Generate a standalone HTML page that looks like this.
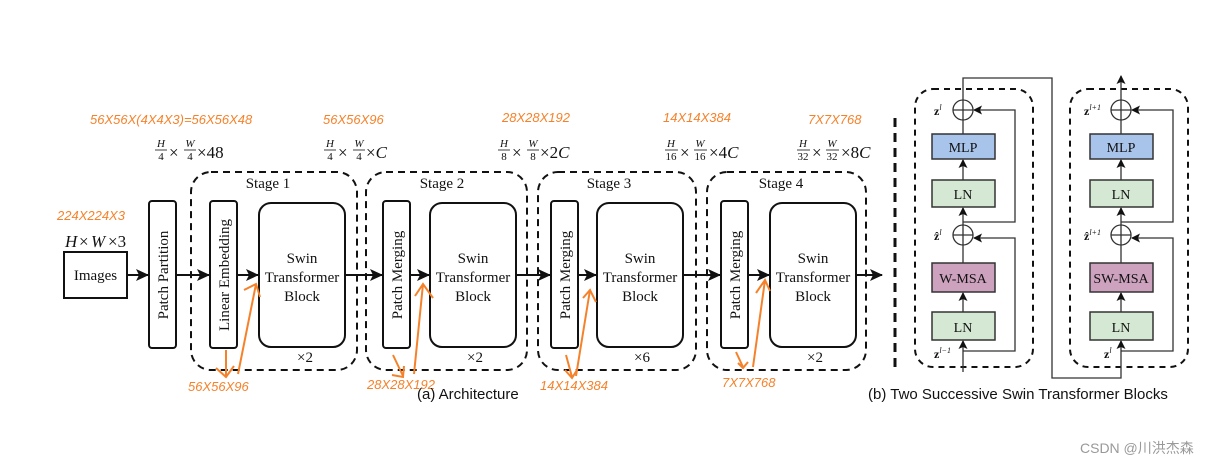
<!DOCTYPE html>
<html><head><meta charset="utf-8"><style>
html,body{margin:0;padding:0;background:#fff;}
svg{display:block}
.s{font-family:"Liberation Serif",serif;fill:#111}
.o{font-family:"Liberation Sans",sans-serif;font-style:italic;fill:#f5822a;font-size:13px}
.a{font-family:"Liberation Sans",sans-serif;fill:#111}
</style></head><body>
<svg width="1232" height="467" viewBox="0 0 1232 467" xmlns="http://www.w3.org/2000/svg">
<defs>
<marker id="ah" markerWidth="13" markerHeight="12" refX="12" refY="6" orient="auto" markerUnits="userSpaceOnUse"><path d="M0,0 L13,6 L0,12 L3,6z" fill="#111"/></marker>
<marker id="as" markerWidth="9" markerHeight="9" refX="8" refY="4.5" orient="auto" markerUnits="userSpaceOnUse"><path d="M0,0 L9,4.5 L0,9 L2,4.5z" fill="#111"/></marker>
</defs>
<text class="o" x="90" y="124">56X56X(4X4X3)=56X56X48</text>
<text class="o" x="323" y="124">56X56X96</text>
<text class="o" x="502" y="122">28X28X192</text>
<text class="o" x="663" y="122">14X14X384</text>
<text class="o" x="808" y="124">7X7X768</text>
<text class="o" x="57" y="220">224X224X3</text>
<g class="s" font-size="11" font-style="italic" text-anchor="middle">
<text x="161" y="147">H</text><text x="161" y="160" font-style="normal">4</text><line x1="155" y1="150" x2="167" y2="150" stroke="#111" stroke-width="0.8"/>
<text x="190" y="147">W</text><text x="190" y="160" font-style="normal">4</text><line x1="184" y1="150" x2="196" y2="150" stroke="#111" stroke-width="0.8"/>
<text x="330" y="147">H</text><text x="330" y="160" font-style="normal">4</text><line x1="324" y1="150" x2="336" y2="150" stroke="#111" stroke-width="0.8"/>
<text x="359" y="147">W</text><text x="359" y="160" font-style="normal">4</text><line x1="353" y1="150" x2="365" y2="150" stroke="#111" stroke-width="0.8"/>
<text x="504" y="147">H</text><text x="504" y="160" font-style="normal">8</text><line x1="498" y1="150" x2="510" y2="150" stroke="#111" stroke-width="0.8"/>
<text x="533" y="147">W</text><text x="533" y="160" font-style="normal">8</text><line x1="527" y1="150" x2="539" y2="150" stroke="#111" stroke-width="0.8"/>
<text x="671" y="147">H</text><text x="671" y="160" font-style="normal">16</text><line x1="665" y1="150" x2="678" y2="150" stroke="#111" stroke-width="0.8"/>
<text x="700" y="147">W</text><text x="700" y="160" font-style="normal">16</text><line x1="694" y1="150" x2="707" y2="150" stroke="#111" stroke-width="0.8"/>
<text x="803" y="147">H</text><text x="803" y="160" font-style="normal">32</text><line x1="797" y1="150" x2="810" y2="150" stroke="#111" stroke-width="0.8"/>
<text x="832" y="147">W</text><text x="832" y="160" font-style="normal">32</text><line x1="826" y1="150" x2="839" y2="150" stroke="#111" stroke-width="0.8"/>
</g>
<g class="s" font-size="17">
<text x="169" y="158">×</text><text x="197" y="158">×48</text>
<text x="338" y="158">×</text><text x="366" y="158">×<tspan font-style="italic">C</tspan></text>
<text x="512" y="158">×</text><text x="540" y="158">×2<tspan font-style="italic">C</tspan></text>
<text x="680" y="158">×</text><text x="709" y="158">×4<tspan font-style="italic">C</tspan></text>
<text x="812" y="158">×</text><text x="841" y="158">×8<tspan font-style="italic">C</tspan></text>
<text x="65" y="247" font-style="italic">H</text><text x="79" y="247">×</text><text x="91" y="247" font-style="italic">W</text><text x="108" y="247">×3</text>
</g>
<rect x="64" y="252" width="63" height="46" fill="#fff" stroke="#111" stroke-width="2"/>
<text class="s" x="95.5" y="280" font-size="15" text-anchor="middle">Images</text>
<g fill="none" stroke="#111" stroke-width="2" stroke-dasharray="7,5">
<rect x="191" y="172" width="166" height="198" rx="20"/>
<rect x="366" y="172" width="161" height="198" rx="20"/>
<rect x="538" y="172" width="158" height="198" rx="20"/>
<rect x="707" y="172" width="159" height="198" rx="20"/>
</g>
<g class="s" font-size="15" text-anchor="middle">
<text x="268" y="188">Stage 1</text><text x="442" y="188">Stage 2</text><text x="609" y="188">Stage 3</text><text x="781" y="188">Stage 4</text>
<text x="305" y="362">×2</text><text x="475" y="362">×2</text><text x="642" y="362">×6</text><text x="815" y="362">×2</text>
</g>
<g fill="#fff" stroke="#111" stroke-width="2">
<rect x="149" y="201" width="27" height="147" rx="3"/>
<rect x="210" y="201" width="27" height="147" rx="3"/>
<rect x="383" y="201" width="27" height="147" rx="3"/>
<rect x="551" y="201" width="27" height="147" rx="3"/>
<rect x="721" y="201" width="27" height="147" rx="3"/>
<rect x="259" y="203" width="86" height="144" rx="12"/>
<rect x="430" y="203" width="86" height="144" rx="12"/>
<rect x="597" y="203" width="86" height="144" rx="12"/>
<rect x="770" y="203" width="86" height="144" rx="12"/>
</g>
<g class="s" font-size="15" text-anchor="middle">
<text transform="translate(168,275) rotate(-90)">Patch Partition</text>
<text transform="translate(229,275) rotate(-90)">Linear Embedding</text>
<text transform="translate(402,275) rotate(-90)">Patch Merging</text>
<text transform="translate(570,275) rotate(-90)">Patch Merging</text>
<text transform="translate(740,275) rotate(-90)">Patch Merging</text>
<text x="302" y="263">Swin</text><text x="302" y="282">Transformer</text><text x="302" y="301">Block</text>
<text x="473" y="263">Swin</text><text x="473" y="282">Transformer</text><text x="473" y="301">Block</text>
<text x="640" y="263">Swin</text><text x="640" y="282">Transformer</text><text x="640" y="301">Block</text>
<text x="813" y="263">Swin</text><text x="813" y="282">Transformer</text><text x="813" y="301">Block</text>
</g>
<g stroke="#111" stroke-width="2" marker-end="url(#ah)">
<line x1="127" y1="275" x2="148" y2="275"/>
<line x1="176" y1="275" x2="209" y2="275"/>
<line x1="237" y1="275" x2="258" y2="275"/>
<line x1="345" y1="275" x2="382" y2="275"/>
<line x1="410" y1="275" x2="429" y2="275"/>
<line x1="516" y1="275" x2="550" y2="275"/>
<line x1="578" y1="275" x2="596" y2="275"/>
<line x1="683" y1="275" x2="720" y2="275"/>
<line x1="748" y1="275" x2="769" y2="275"/>
<line x1="856" y1="275" x2="882" y2="275"/>
</g>
<g stroke="#f5822a" stroke-width="2" fill="none">
<path d="M226,350 L226,376 M216,368 L226,377 L234,366"/>
<path d="M238,374 L256,284 M244,290 L256,284 L260,297"/>
<path d="M393,355 L403,376 M392,375 L403,377 L404,366"/>
<path d="M414,374 L423,284 M415,296 L423,284 L433,298"/>
<path d="M566,355 L572,377 M565,370 L572,378 L577,370"/>
<path d="M576,376 L590,290 M583,298 L590,290 L596,302"/>
<path d="M736,352 L743,367 M738,363 L743,368 L748,362"/>
<path d="M753,367 L765,280 M756,293 L765,280 L770,291"/>
</g>
<text class="o" x="188" y="391">56X56X96</text>
<text class="o" x="367" y="389">28X28X192</text>
<text class="o" x="540" y="390">14X14X384</text>
<text class="o" x="722" y="387">7X7X768</text>
<text class="a" x="417" y="399" font-size="15">(a) Architecture</text>
<line x1="895" y1="118" x2="895" y2="372" stroke="#111" stroke-width="3" stroke-dasharray="9,6"/>
<g fill="none" stroke="#111" stroke-width="2" stroke-dasharray="6,5">
<rect x="915" y="89" width="118" height="278" rx="18"/>
<rect x="1070" y="89" width="118" height="278" rx="18"/>
</g>
<g stroke="#333" stroke-width="1.3" fill="none">
<line x1="963" y1="372" x2="963" y2="341" marker-end="url(#as)"/>
<line x1="963" y1="312" x2="963" y2="293" marker-end="url(#as)"/>
<line x1="963" y1="263" x2="963" y2="245"/>
<line x1="963" y1="225" x2="963" y2="208" marker-end="url(#as)"/>
<line x1="963" y1="180" x2="963" y2="160" marker-end="url(#as)"/>
<line x1="963" y1="134" x2="963" y2="120"/>
<polyline points="963,351 1015,351 1015,238 974,238" marker-end="url(#as)"/>
<polyline points="963,222 1015,222 1015,110 974,110" marker-end="url(#as)"/>
<circle cx="963" cy="110" r="10"/><line x1="953" y1="110" x2="973" y2="110"/><line x1="963" y1="100" x2="963" y2="120"/>
<circle cx="963" cy="235" r="10"/><line x1="953" y1="235" x2="973" y2="235"/><line x1="963" y1="225" x2="963" y2="245"/>
<polyline points="963,100 963,78 1052,78 1052,378 1121,378 1121,341" marker-end="url(#as)"/>
<line x1="1121" y1="312" x2="1121" y2="293" marker-end="url(#as)"/>
<line x1="1121" y1="263" x2="1121" y2="245"/>
<line x1="1121" y1="225" x2="1121" y2="208" marker-end="url(#as)"/>
<line x1="1121" y1="180" x2="1121" y2="160" marker-end="url(#as)"/>
<line x1="1121" y1="134" x2="1121" y2="120"/>
<polyline points="1121,351 1173,351 1173,238 1132,238" marker-end="url(#as)"/>
<polyline points="1121,222 1173,222 1173,110 1132,110" marker-end="url(#as)"/>
<circle cx="1121" cy="110" r="10"/><line x1="1111" y1="110" x2="1131" y2="110"/><line x1="1121" y1="100" x2="1121" y2="120"/>
<circle cx="1121" cy="235" r="10"/><line x1="1111" y1="235" x2="1131" y2="235"/><line x1="1121" y1="225" x2="1121" y2="245"/>
<line x1="1121" y1="100" x2="1121" y2="76" marker-end="url(#as)"/>
</g>
<g stroke="#333" stroke-width="1.5">
<rect x="932" y="134" width="63" height="25" fill="#a9c4eb"/>
<rect x="932" y="180" width="63" height="27" fill="#d5e8d4"/>
<rect x="932" y="263" width="63" height="29" fill="#cda2be"/>
<rect x="932" y="312" width="63" height="28" fill="#d5e8d4"/>
<rect x="1090" y="134" width="63" height="25" fill="#a9c4eb"/>
<rect x="1090" y="180" width="63" height="27" fill="#d5e8d4"/>
<rect x="1090" y="263" width="63" height="29" fill="#cda2be"/>
<rect x="1090" y="312" width="63" height="28" fill="#d5e8d4"/>
</g>
<g class="s" font-size="14" text-anchor="middle">
<text x="963" y="152">MLP</text><text x="963" y="199">LN</text><text x="963" y="283">W-MSA</text><text x="963" y="332">LN</text>
<text x="1121" y="152">MLP</text><text x="1121" y="199">LN</text><text x="1121" y="283">SW-MSA</text><text x="1121" y="332">LN</text>
</g>
<g class="s" font-size="12" font-weight="bold">
<text x="934" y="115">z<tspan font-size="8" font-weight="normal" font-style="italic" dy="-5">l</tspan></text>
<text x="934" y="240">ẑ<tspan font-size="8" font-weight="normal" font-style="italic" dy="-5">l</tspan></text>
<text x="934" y="358">z<tspan font-size="8" font-weight="normal" font-style="italic" dy="-5">l−1</tspan></text>
<text x="1084" y="115">z<tspan font-size="8" font-weight="normal" font-style="italic" dy="-5">l+1</tspan></text>
<text x="1084" y="240">ẑ<tspan font-size="8" font-weight="normal" font-style="italic" dy="-5">l+1</tspan></text>
<text x="1104" y="358">z<tspan font-size="8" font-weight="normal" font-style="italic" dy="-5">l</tspan></text>
</g>
<text class="a" x="868" y="399" font-size="15">(b) Two Successive Swin Transformer Blocks</text>
<text x="1080" y="453" font-size="14" fill="#999" font-family="'Liberation Sans','Noto Sans CJK SC',sans-serif">CSDN @川洪杰森</text>
</svg>
</body></html>
